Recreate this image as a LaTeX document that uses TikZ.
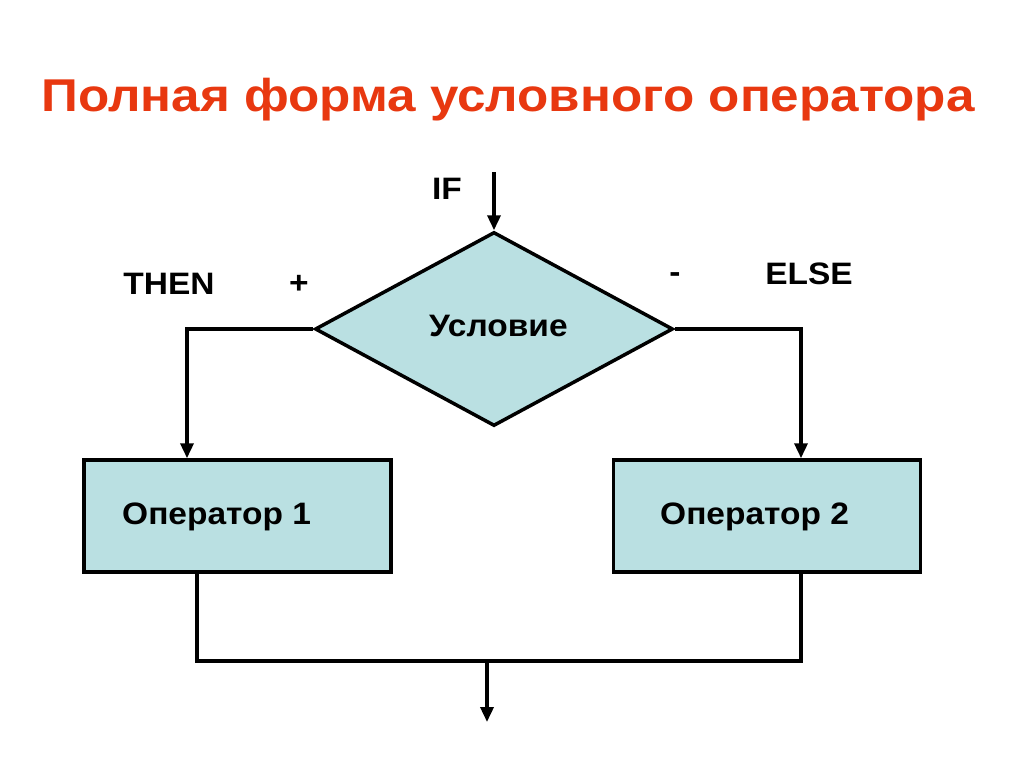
\documentclass[tikz,border=0pt]{standalone}
\usepackage{fontspec}
\setmainfont{Liberation Sans}
\usetikzlibrary{shapes.geometric,arrows.meta}
\definecolor{titlered}{RGB}{232,56,16}
\definecolor{boxfill}{RGB}{186,224,226}
\begin{document}
\begin{tikzpicture}[x=1pt,y=-1pt,
  lbl/.style={font=\fontsize{31}{36}\selectfont\bfseries, inner sep=0pt, xscale=1.08},
  procbox/.style={draw=black, line width=3.5pt, fill=boxfill, minimum width=307pt, minimum height=112pt, inner sep=0pt},
  decision/.style={draw=black, line width=3.5pt, fill=boxfill, shape=diamond, minimum width=358pt, minimum height=194pt, inner sep=0pt},
  conn/.style={line width=3.5pt, draw=black},
  arr/.style={conn, -{Triangle[length=15pt,width=13pt]}}]
\useasboundingbox[fill=white] (0,0) rectangle (1024,768);
\node[font=\fontsize{46}{52}\selectfont\bfseries, text=titlered, inner sep=0pt, xscale=1.113] (title) at (508,100) {Полная форма условного оператора};
\node[decision] (dia) at (494,329) {};
\node[lbl, anchor=west] (cond) at (429,326) {Условие};
\node[procbox] (box1) at (237.5,516) {};
\node[procbox] (box2) at (767,516) {};
\node[lbl, anchor=west] (op1) at (122,517) {Оператор 1};
\node[lbl, anchor=west] (op2) at (660,517) {Оператор 2};
\node[lbl] (if) at (447,189) {IF};
\node[lbl] (then) at (169,284) {THEN};
\node[lbl] (plus) at (299,284) {+};
\node[lbl] (minus) at (675,278) {-};
\node[lbl] (else) at (809,274) {ELSE};
\coordinate (in) at (494,172);
\coordinate (join) at (487,661);
\coordinate (out) at (487,722);
\draw[arr] (in) -- (dia.north);
\draw[arr] (dia.west) -| ([xshift=-50.5pt]box1.north);
\draw[arr] (dia.east) -| ([xshift=34pt]box2.north);
\draw[conn] ([xshift=-40.5pt]box1.south) |- (join) -| ([xshift=34pt]box2.south);
\draw[arr] (join) -- (out);
\end{tikzpicture}
\end{document}
